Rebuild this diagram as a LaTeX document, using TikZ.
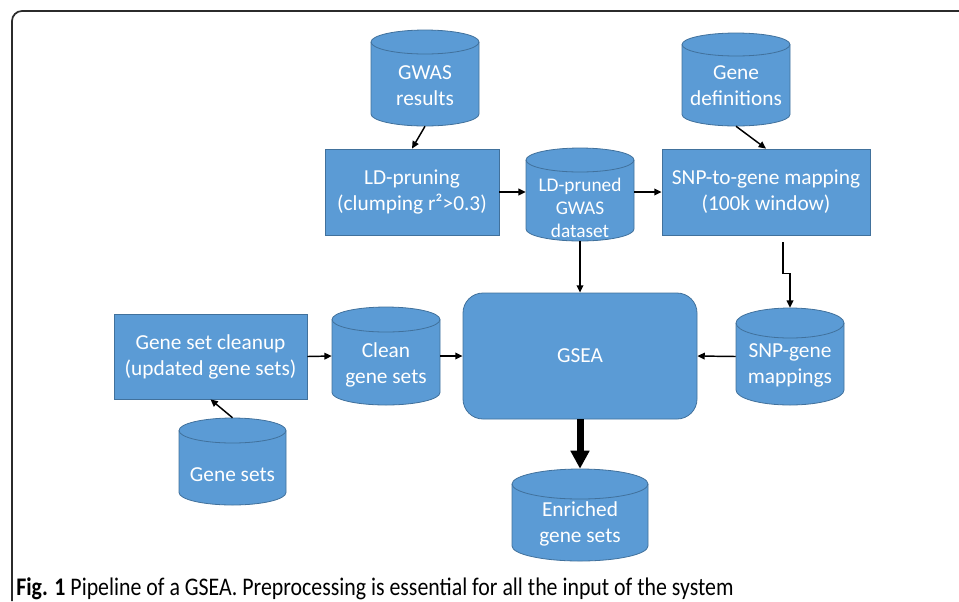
\documentclass[tikz,border=0pt]{standalone}
\usepackage{fontspec}
\setmainfont{Carlito}
\usetikzlibrary{arrows.meta,calc}
\definecolor{dbblue}{HTML}{5B9BD5}
\definecolor{dbedge}{HTML}{41719C}
\definecolor{framegray}{HTML}{2B2B2B}
\tikzset{
  boxnode/.style={rectangle, fill=dbblue, draw=dbedge, line width=0.6pt, inner sep=0pt, align=center, text=white, font=\fontsize{16}{19.5}\selectfont},
  dbfill/.style={fill=dbblue},
  dbline/.style={draw=dbedge, line width=0.6pt},
  dbnode/.style={rectangle, inner sep=0pt, draw=none},
  dbtext/.style={inner sep=0pt, align=center, text=white, font=\fontsize{16}{19.5}\selectfont},
  arr/.style={-{Triangle[length=5.5pt,width=5pt]}, line width=1.1pt, black},
  bigarr/.style={-{Triangle[length=13.5pt,width=13.5pt]}, line width=5.25pt, black},
}
% #1 name, #2 left, #3 top, #4 right, #5 bottom, #6 cap radius, #7 text shift (px), #8 text, #9 text style
\newcommand\dbcyl[9]{%
  \pgfmathsetmacro\dbrx{(#4-#2)/2*0.75}%
  \pgfmathsetmacro\dbry{#6*0.75}%
  \path[dbfill] (#2,#3+#6) arc[start angle=180, end angle=0, x radius=\dbrx pt, y radius=\dbry pt]
     -- (#4,#5-#6) arc[start angle=0, end angle=-180, x radius=\dbrx pt, y radius=\dbry pt] -- cycle;
  \draw[dbline] (#2,#3+#6) arc[start angle=180, end angle=-180, x radius=\dbrx pt, y radius=\dbry pt];
  \draw[dbline] (#2,#3+#6) -- (#2,#5-#6) arc[start angle=180, end angle=360, x radius=\dbrx pt, y radius=\dbry pt] -- (#4,#3+#6);
  \node[dbnode, minimum width={(#4-#2)*0.75pt}, minimum height={(#5-#3)*0.75pt}] (#1) at ({(#2+#4)/2},{(#3+#5)/2}) {};
  \node[dbtext, #9] (#1-text) at ({(#2+#4)/2},{(#3+#5)/2+#7}) {#8};
}
\begin{document}
\begin{tikzpicture}[x=0.75pt,y=-0.75pt]
\useasboundingbox (0,0) rectangle (959,601);
% frame
\draw[framegray, line width=1.3pt] (12,601) -- (12,21) arc[start angle=180, end angle=90, radius=7.5pt] -- (959,11);

% cylinders
\dbcyl{gwas}{371}{30}{479}{126}{12}{8}{GWAS\\results}{}
\dbcyl{ldpr}{526}{148}{634}{241}{12}{13}{LD-pruned\\GWAS\\dataset}{font=\fontsize{14.5}{17.25}\selectfont}
\dbcyl{gdef}{682}{33}{790}{126}{11.5}{6}{Gene\\definitions}{}
\dbcyl{snpg}{736}{308}{844}{405}{15}{9}{SNP-gene\\mappings}{}
\dbcyl{clean}{332}{307}{440}{405}{12.5}{9}{Clean\\gene sets}{}
\dbcyl{gsets}{179}{418}{286}{505}{12.5}{13}{Gene sets}{}
\dbcyl{enr}{512}{469}{648}{561}{15}{9}{Enriched\\gene sets}{}

% boxes
\node[boxnode, minimum width={174*0.75pt}, minimum height={86*0.75pt}] (ldp) at (412,192) {LD-pruning\\(clumping r²>0.3)};
\node[boxnode, minimum width={208*0.75pt}, minimum height={86*0.75pt}] (snpmap) at (766,192) {SNP-to-gene mapping\\(100k window)};
\node[boxnode, minimum width={193*0.75pt}, minimum height={85*0.75pt}] (cleanup) at (210.5,356.5) {Gene set cleanup\\(updated gene sets)};
\node[boxnode, rounded corners=15pt, minimum width={234*0.75pt}, minimum height={126*0.75pt}] (gsea) at (580,356) {GSEA};

% connectors
\draw[arr] (gwas.south) -- (ldp.north);
\draw[arr] (gdef.south) -- (snpmap.north);
\draw[arr] (ldp.east) -- (ldp.east -| ldpr.west);
\draw[arr] (snpmap.west -| ldpr.east) -- (snpmap.west);
\draw[arr] (ldpr.south) -- (gsea.north);
\coordinate (jog) at ($(snpmap.south)+(17,7)$);
\draw[arr] (jog) -- ++(0,31) -| (snpg.north);
\draw[arr] (snpg.west) -- (gsea.east);
\draw[arr] (cleanup.east) -- (clean.west);
\draw[arr] (clean.east) -- (gsea.west);
\draw[arr] (gsets.north) -- (cleanup.south);
\draw[bigarr] (gsea.south) -- (enr.north);

% caption
\node[anchor=base west, inner sep=0pt, font=\fontsize{19}{22}\selectfont] (caption) at (16,595)
  {\resizebox{538pt}{\height}{\textbf{Fig. 1} Pipeline of a GSEA. Preprocessing is essential for all the input of the system}};
\end{tikzpicture}
\end{document}
